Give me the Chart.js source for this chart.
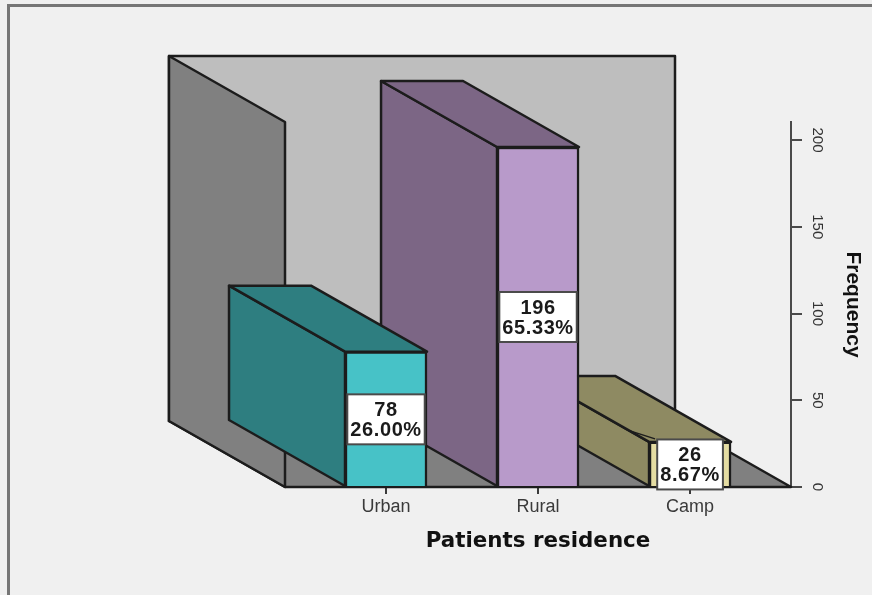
<!DOCTYPE html>
<html>
<head>
<meta charset="utf-8">
<style>
  html, body { margin: 0; padding: 0; background: #f0f0f0; }
  #wrap { width: 872px; height: 595px; position: relative; }
</style>
<script src="https://cdn.jsdelivr.net/npm/chart.js@4/dist/chart.umd.min.js"></script>
</head>
<body>
<div id="wrap"><canvas id="chart" width="872" height="595"></canvas></div>
<script>
const categories = ["Urban", "Rural", "Camp"];
const frequencies = [78, 196, 26];
const percents = ["26.00%", "65.33%", "8.67%"];
const frontColors = ["#47c2c7", "#b89aca", "#e4dca2"];
const sideColors = ["#2e7e80", "#7c6685", "#8e8a62"];
const yTicks = [0, 50, 100, 150, 200];

// depth of the fake 3d box, pixels
const DX = -116, DY = -66;
const LINE = "#1c1c1c";

function poly(ctx, pts, fill) {
  ctx.beginPath();
  pts.forEach((p, i) => i ? ctx.lineTo(p[0], p[1]) : ctx.moveTo(p[0], p[1]));
  ctx.closePath();
  ctx.fillStyle = fill;
  ctx.fill();
  ctx.stroke();
}

const backdrop = {
  id: "backdrop",
  beforeDraw(chart) {
    const c = chart.ctx;
    c.save();
    c.fillStyle = "#f0f0f0";
    c.fillRect(0, 0, 872, 595);
    c.strokeStyle = "#767676";
    c.lineWidth = 3;
    c.beginPath();
    c.moveTo(8.5, 595);
    c.lineTo(8.5, 5.5);
    c.lineTo(872, 5.5);
    c.stroke();
    c.restore();
  }
};

// walls, floor and the side + top faces of the bars, all from the scales
const box3d = {
  id: "box3d",
  beforeDatasetsDraw(chart) {
    const c = chart.ctx;
    const { left, right, top, bottom } = chart.chartArea;
    c.save();
    c.strokeStyle = LINE;
    c.lineWidth = 2.5;
    c.lineJoin = "round";
    poly(c, [[left + DX, top + DY], [right + DX, top + DY], [right + DX, bottom + DY], [left + DX, bottom + DY]], "#bebebe");
    poly(c, [[left + DX, bottom + DY], [right + DX, bottom + DY], [right, bottom], [left, bottom]], "#808080");
    poly(c, [[left + DX, top + DY], [left, top], [left, bottom], [left + DX, bottom + DY]], "#808080");
    const bars = chart.getDatasetMeta(0).data;
    for (let i = bars.length - 1; i >= 0; i--) {
      const b = bars[i];
      const l = b.x - b.width / 2, r = b.x + b.width / 2;
      poly(c, [[l + DX, b.y + DY], [l, b.y], [l, b.base], [l + DX, b.base + DY]], sideColors[i]);
      poly(c, [[l + DX, b.y + DY], [r + DX, b.y + DY], [r, b.y], [l, b.y]], sideColors[i]);
    }
    // little leader stub the camp label leaves on the top face
    const camp = bars[2];
    const cl = camp.x - camp.width / 2;
    c.lineWidth = 1.5;
    c.beginPath();
    c.moveTo(cl - 19, camp.y - 11);
    c.lineTo(cl + 6, camp.y - 3);
    c.stroke();
    c.restore();
  }
};

const valueBoxes = {
  id: "valueBoxes",
  afterDatasetsDraw(chart) {
    const c = chart.ctx;
    const bars = chart.getDatasetMeta(0).data;
    c.save();
    c.font = "bold 20px 'Liberation Sans'";
    c.letterSpacing = "0.6px";
    c.textAlign = "center";
    c.textBaseline = "middle";
    bars.forEach((b, i) => {
      const midY = (b.y + b.base) / 2 + 0.5;
      const w = Math.min(c.measureText(percents[i]).width + 6, b.width - 2);
      c.fillStyle = "#ffffff";
      c.strokeStyle = "#4a4a4a";
      c.lineWidth = 2;
      c.fillRect(b.x - w / 2, midY - 25, w, 50);
      c.strokeRect(b.x - w / 2, midY - 25, w, 50);
      c.fillStyle = "#1a1a1a";
      c.fillText(String(frequencies[i]), b.x, midY - 9);
      c.fillText(percents[i], b.x, midY + 11);
    });
    c.restore();
  }
};

new Chart(document.getElementById("chart"), {
  type: "bar",
  data: {
    labels: categories,
    datasets: [{
      data: frequencies.map((v, i) => ({ x: i + 1, y: v })),
      backgroundColor: frontColors,
      borderColor: LINE,
      borderWidth: 2.5,
      barThickness: 82
    }]
  },
  plugins: [backdrop, box3d, valueBoxes],
  options: {
    responsive: false,
    animation: false,
    layout: { padding: { left: 285, top: 122, right: 0, bottom: 0 } },
    plugins: { legend: { display: false }, tooltip: { enabled: false } },
    scales: {
      x: {
        type: "linear",
        offset: false,
        min: 0.3355,
        max: 3.664,
        afterFit(s) { s.height = 108; },
        afterBuildTicks(s) { s.ticks = categories.map((_, i) => ({ value: i + 1 })); },
        grid: { offset: false, drawOnChartArea: false, tickLength: 7, color: "#3a3a3a", lineWidth: 2 },
        border: { display: true, color: "#1c1c1c", width: 2 },
        ticks: {
          autoSkip: false,
          maxRotation: 0,
          padding: 2,
          color: "#3a3a3a",
          font: { family: "'Liberation Sans'", size: 18 },
          callback: v => categories[v - 1]
        },
        title: {
          display: true,
          text: "Patients residence",
          color: "#111111",
          padding: { top: 0, bottom: 41 },
          font: { family: "'DejaVu Sans'", weight: "bold", size: 21.4 }
        }
      },
      y: {
        position: "right",
        min: 0,
        max: 210.4,
        afterFit(s) { s.width = 81; },
        afterBuildTicks(s) { s.ticks = yTicks.map(v => ({ value: v })); },
        grid: { drawOnChartArea: false, tickLength: 11, color: "#4a4a4a", lineWidth: 2 },
        border: { display: true, color: "#4a4a4a", width: 2 },
        ticks: {
          minRotation: -90,
          maxRotation: -90,
          padding: 3,
          color: "#333333",
          align: "center",
          crossAlign: "center",
          font: { family: "'Liberation Sans'", size: 15 }
        },
        title: {
          display: true,
          text: "Frequency",
          color: "#111111",
          padding: { top: 7, bottom: 0 },
          font: { family: "'Liberation Sans'", weight: "bold", size: 21 }
        }
      }
    }
  }
});
</script>
</body>
</html>
